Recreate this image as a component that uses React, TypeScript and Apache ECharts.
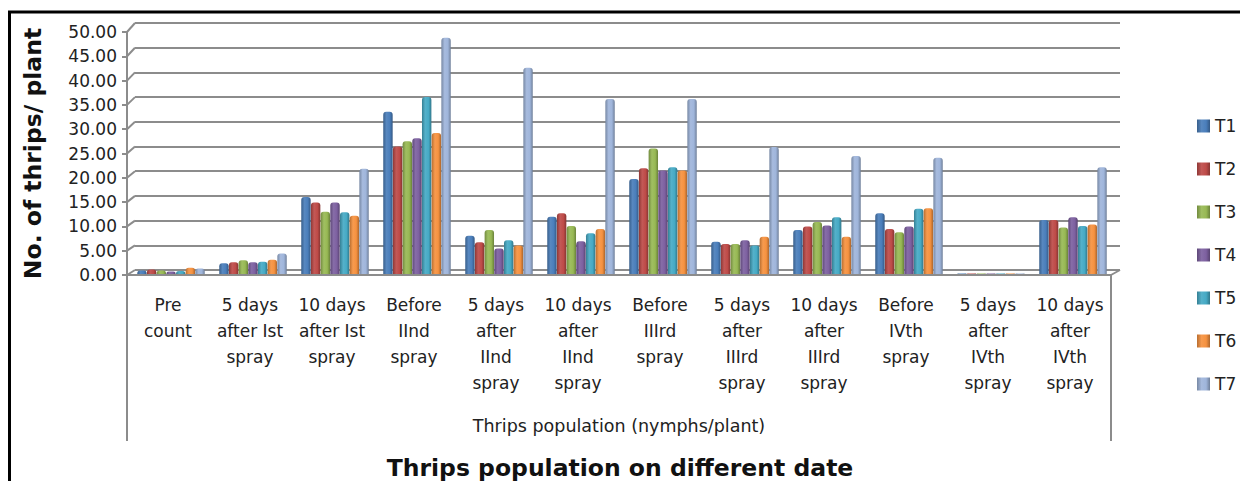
import React, { useEffect, useRef } from "react";
import * as echarts from "echarts";

const categories = [
  "Pre\ncount",
  "5 days\nafter Ist\nspray",
  "10 days\nafter Ist\nspray",
  "Before\nIInd\nspray",
  "5 days\nafter\nIInd\nspray",
  "10 days\nafter\nIInd\nspray",
  "Before\nIIIrd\nspray",
  "5 days\nafter\nIIIrd\nspray",
  "10 days\nafter\nIIIrd\nspray",
  "Before\nIVth\nspray",
  "5 days\nafter\nIVth\nspray",
  "10 days\nafter\nIVth\nspray",
];

const seriesNames = ["T1", "T2", "T3", "T4", "T5", "T6", "T7"];

const T1 = [0.7, 2.2, 15.7, 33.1, 7.8, 11.7, 19.4, 6.6, 9.0, 12.4, 0.1, 11.0];
const T2 = [0.9, 2.4, 14.6, 26.0, 6.5, 12.4, 21.6, 6.1, 9.7, 9.2, 0.1, 11.0];
const T3 = [0.7, 2.8, 12.7, 27.1, 9.0, 9.8, 25.6, 6.1, 10.6, 8.5, 0.1, 9.5];
const T4 = [0.5, 2.4, 14.6, 27.7, 5.2, 6.7, 21.1, 6.9, 9.9, 9.7, 0.1, 11.6];
const T5 = [0.6, 2.5, 12.6, 36.1, 6.9, 8.3, 21.8, 5.8, 11.6, 13.3, 0.1, 9.8];
const T6 = [1.3, 2.9, 11.9, 28.8, 5.8, 9.2, 21.1, 7.6, 7.6, 13.4, 0.1, 10.1];
const T7 = [1.1, 4.2, 21.5, 48.2, 42.1, 35.7, 35.7, 25.9, 24.1, 23.7, 0.1, 21.8];
const seriesValues = [T1, T2, T3, T4, T5, T6, T7];

const colors = ["#4A7EBB", "#BE4B48", "#98B954", "#7D60A0", "#46AAC5", "#F69240", "#9FB5DB"];

const yTicks = [0, 5, 10, 15, 20, 25, 30, 35, 40, 45, 50];

const title = "Thrips population on different date";
const xName = "Thrips population (nymphs/plant)";
const yName = "No. of thrips/ plant";

const FONT = "DejaVu Sans";
const GRID_COLOR = "#8c8c8c";

function mix(hex: string, target: number, f: number) {
  const n = parseInt(hex.slice(1), 16);
  const r = (n >> 16) & 255, g = (n >> 8) & 255, b = n & 255;
  const m = (c: number) => Math.round(c + (target - c) * f);
  return `rgb(${m(r)},${m(g)},${m(b)})`;
}

export default function App() {
  const ref = useRef<HTMLDivElement>(null);
  useEffect(() => {
    if (!ref.current) return;
    const chart = echarts.init(ref.current, null, { renderer: "svg" });
    const front = { left: 127, top: 32, width: 984, height: 243 };
    const back = { left: 135, top: 23, width: 985, height: 247 };
    const bars = { left: 130, top: 29, width: 984, height: 245 };

    const option: any = {
      animation: false,
      backgroundColor: "#ffffff",
      title: {
        text: title,
        left: "center",
        top: 451,
        textStyle: { fontFamily: FONT, fontSize: 23.5, fontWeight: "bold", color: "#111" },
      },
      legend: {
        orient: "vertical",
        left: 1197,
        top: 116,
        padding: 0,
        itemWidth: 13,
        itemHeight: 13,
        itemGap: 23,
        icon: "rect",
        data: seriesNames,
        textStyle: { fontFamily: FONT, fontSize: 17, lineHeight: 20, color: "#222" },
      },
      grid: [
        { ...front, containLabel: false },
        { ...back, containLabel: false },
        { ...bars, containLabel: false },
      ],
      xAxis: [
        {
          type: "category",
          gridIndex: 0,
          data: categories,
          axisLine: { show: true, lineStyle: { color: GRID_COLOR, width: 2 } },
          axisTick: { show: false },
          axisLabel: {
            interval: 0,
            margin: 17,
            fontFamily: FONT,
            fontSize: 17,
            lineHeight: 26,
            color: "#222",
            align: "center",
          },
          name: xName,
          nameLocation: "middle",
          nameGap: 142,
          nameTextStyle: { fontFamily: FONT, fontSize: 17.5, color: "#222", verticalAlign: "top" },
        },
        { type: "value", gridIndex: 1, show: false, min: 0, max: 1 },
        { type: "category", gridIndex: 2, show: false, data: categories },
      ],
      yAxis: [
        {
          type: "value",
          gridIndex: 0,
          min: 0,
          max: 50,
          interval: 5,
          axisLine: { show: true, lineStyle: { color: GRID_COLOR, width: 2 } },
          axisTick: { show: true, length: 5, lineStyle: { color: GRID_COLOR, width: 2 } },
          splitLine: { show: false },
          axisLabel: {
            margin: 10,
            fontFamily: FONT,
            fontSize: 17,
            color: "#222",
            formatter: (v: number) => v.toFixed(2),
          },
          name: yName,
          nameLocation: "middle",
          nameGap: 82,
          nameTextStyle: { fontFamily: FONT, fontSize: 23.5, fontWeight: "bold", color: "#111" },
        },
        {
          type: "value",
          gridIndex: 1,
          min: 0,
          max: 50,
          interval: 5,
          axisLine: { show: false },
          axisTick: { show: false },
          axisLabel: { show: false },
          splitLine: { show: true, lineStyle: { color: GRID_COLOR, width: 2 } },
        },
        { type: "value", gridIndex: 2, show: false, min: 0, max: 50 },
      ],
      series: seriesNames.map((name, i) => ({
        name,
        type: "bar",
        xAxisIndex: 2,
        yAxisIndex: 2,
        data: seriesValues[i],
        barWidth: 9.4,
        barGap: "3%",
        itemStyle: {
          color: new echarts.graphic.LinearGradient(0, 0, 1, 0, [
            { offset: 0, color: mix(colors[i], 0, 0.25) },
            { offset: 0.35, color: mix(colors[i], 255, 0.08) },
            { offset: 0.7, color: colors[i] },
            { offset: 1, color: mix(colors[i], 0, 0.3) },
          ]),
          borderRadius: [3, 3, 0, 0],
        },
        emphasis: { disabled: true },
      })),
    };
    chart.setOption(option);

    // perspective connectors and bracket lines derived from the axes
    const g: any[] = [];
    yTicks.forEach((v, k) => {
      const yf = chart.convertToPixel({ yAxisIndex: 0 }, v) as number;
      const yb = chart.convertToPixel({ yAxisIndex: 1 }, v) as number;
      g.push({
        type: "line",
        id: "conn" + k,
        shape: { x1: front.left, y1: yf, x2: back.left, y2: yb },
        style: { stroke: GRID_COLOR, lineWidth: 2 },
        silent: true,
      });
    });
    const y0f = chart.convertToPixel({ yAxisIndex: 0 }, 0) as number;
    const y0b = chart.convertToPixel({ yAxisIndex: 1 }, 0) as number;
    const rightF = front.left + front.width;
    const rightB = back.left + back.width;
    g.push({
      type: "line",
      id: "floorR",
      shape: { x1: rightF, y1: y0f, x2: rightB, y2: y0b },
      style: { stroke: GRID_COLOR, lineWidth: 2 },
    });
    g.push({
      type: "line",
      id: "brL",
      shape: { x1: front.left, y1: y0f, x2: front.left, y2: 441 },
      style: { stroke: GRID_COLOR, lineWidth: 2 },
    });
    g.push({
      type: "line",
      id: "brR",
      shape: { x1: rightF, y1: y0f, x2: rightF, y2: 441 },
      style: { stroke: GRID_COLOR, lineWidth: 2 },
    });
    g.push({
      type: "line",
      id: "borderTop",
      shape: { x1: 8, y1: 12, x2: 1240, y2: 12 },
      style: { stroke: "#000", lineWidth: 3 },
    });
    g.push({
      type: "line",
      id: "borderLeft",
      shape: { x1: 9.5, y1: 11, x2: 9.5, y2: 481 },
      style: { stroke: "#000", lineWidth: 3 },
    });
    chart.setOption({ graphic: g });

    return () => chart.dispose();
  }, []);

  return (
    <div
      ref={ref}
      style={{ position: "absolute", left: 0, top: 0, width: 1240, height: 481 }}
    />
  );
}
